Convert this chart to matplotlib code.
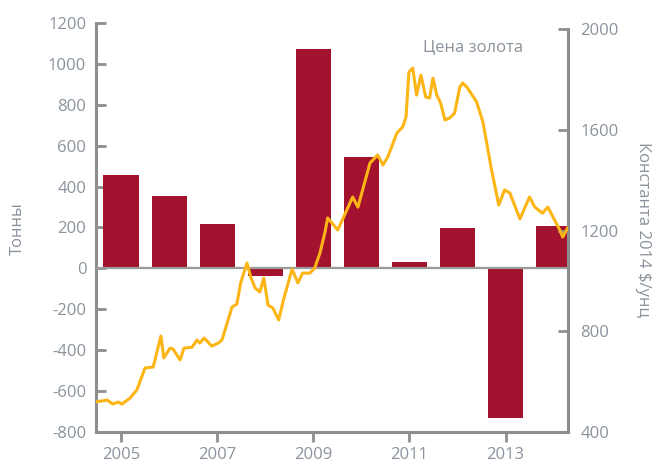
import matplotlib
matplotlib.use('Agg')
import matplotlib.pyplot as plt

# Data
years = [2005, 2006, 2007, 2008, 2009, 2010, 2011, 2012, 2013, 2014]
tonnes = [459, 352, 215, -38, 1073, 546, 30, 197, -730, 206]

gold_t = [2004.49, 2004.63, 2004.71, 2004.83, 2004.94, 2005.02, 2005.19, 2005.33,
          2005.50, 2005.67, 2005.83, 2005.89, 2006.02, 2006.08, 2006.23, 2006.31,
          2006.48, 2006.58, 2006.64, 2006.73, 2006.89, 2007.02, 2007.10, 2007.31,
          2007.41, 2007.49, 2007.62, 2007.70, 2007.79, 2007.89, 2007.97, 2008.06,
          2008.16, 2008.28, 2008.39, 2008.45, 2008.56, 2008.68, 2008.78, 2008.93,
          2009.03, 2009.14, 2009.24, 2009.30, 2009.51, 2009.82, 2009.93, 2010.18,
          2010.34, 2010.45, 2010.55, 2010.74, 2010.86, 2010.93, 2010.99, 2011.07,
          2011.15, 2011.24, 2011.34, 2011.42, 2011.49, 2011.57, 2011.65, 2011.74,
          2011.84, 2011.94, 2012.05, 2012.11, 2012.21, 2012.40, 2012.53, 2012.71,
          2012.86, 2012.98, 2013.09, 2013.30, 2013.50, 2013.61, 2013.77, 2013.88,
          2014.02, 2014.13, 2014.19, 2014.29]
gold_p = [520, 524, 527, 511, 519, 511, 535, 567,
          654, 658, 781, 694, 733, 730, 686, 733,
          737, 765, 753, 773, 741, 753, 765, 896,
          908, 992, 1071, 1015, 972, 956, 1011, 904,
          892, 845, 932, 972, 1047, 992, 1031, 1031,
          1051, 1111, 1190, 1250, 1202, 1333, 1293, 1468,
          1500, 1460, 1492, 1587, 1611, 1651, 1829, 1845,
          1738, 1817, 1730, 1726, 1805, 1738, 1706, 1639,
          1647, 1666, 1770, 1786, 1766, 1710, 1631, 1440,
          1301, 1361, 1349, 1246, 1333, 1293, 1269, 1293,
          1242, 1202, 1174, 1210]

left_ticks = [-800, -600, -400, -200, 0, 200, 400, 600, 800, 1000, 1200]
right_ticks = [400, 800, 1200, 1600, 2000]
x_ticks = [2005, 2007, 2009, 2011, 2013]

bar_color = '#A3122F'
line_color = '#FDB515'
spine_color = '#8E8E8E'
text_color = '#8A939C'

plt.rcParams['font.family'] = ['Open Sans', 'DejaVu Sans']
plt.rcParams['axes.unicode_minus'] = False

fig = plt.figure(figsize=(6.57, 4.66), dpi=100)
ax = fig.add_axes([96/657, 34/466, 472/657, 409/466])
ax2 = ax.twinx()

ax.bar(years, tonnes, width=0.73, color=bar_color, zorder=2)
ax.axhline(0, color='#9A9A9A', lw=1.6, zorder=3)
ax.set_xlim(2004.48, 2014.30)
ax.set_ylim(-800, 1200)
ax.set_yticks(left_ticks)
ax.set_yticklabels([str(t) for t in left_ticks])
ax.set_xticks(x_ticks)
ax.set_xticklabels([str(t) for t in x_ticks])

ax2.plot(gold_t, gold_p, color=line_color, lw=2.2, zorder=4,
         solid_joinstyle='round', solid_capstyle='round')
ax2.set_ylim(400, 2024)
ax2.set_yticks(right_ticks)
ax2.set_yticklabels([str(t) for t in right_ticks])

for a in (ax, ax2):
    a.spines['top'].set_visible(False)
    for s in a.spines.values():
        s.set_color(spine_color)
        s.set_linewidth(2.2)
ax.spines['right'].set_visible(False)
ax2.spines['left'].set_visible(False)
ax2.spines['bottom'].set_visible(False)
ax.spines['left'].set_bounds(-800, 1200)
ax2.spines['right'].set_bounds(400, 2000)

ax.tick_params(axis='y', direction='in', length=7, width=2, color=spine_color,
               labelcolor=text_color, labelsize=12, pad=7)
ax.tick_params(axis='x', direction='out', length=7, width=2, color=spine_color,
               labelcolor=text_color, labelsize=12, pad=4)
ax2.tick_params(axis='y', direction='in', length=7, width=2, color=spine_color,
                labelcolor=text_color, labelsize=12, pad=9)

fig.text(18/657, 1 - 229/466, 'Тонны', rotation=90, ha='center', va='center',
         color=text_color, fontsize=12)
fig.text(643/657, 1 - 230/466, 'Константа 2014 $/унц', rotation=-90, ha='center',
         va='center', color=text_color, fontsize=12)
fig.text(473/657, 1 - 48/466, 'Цена золота', ha='center', va='center',
         color=text_color, fontsize=12)

fig.savefig('out.png', dpi=100)
